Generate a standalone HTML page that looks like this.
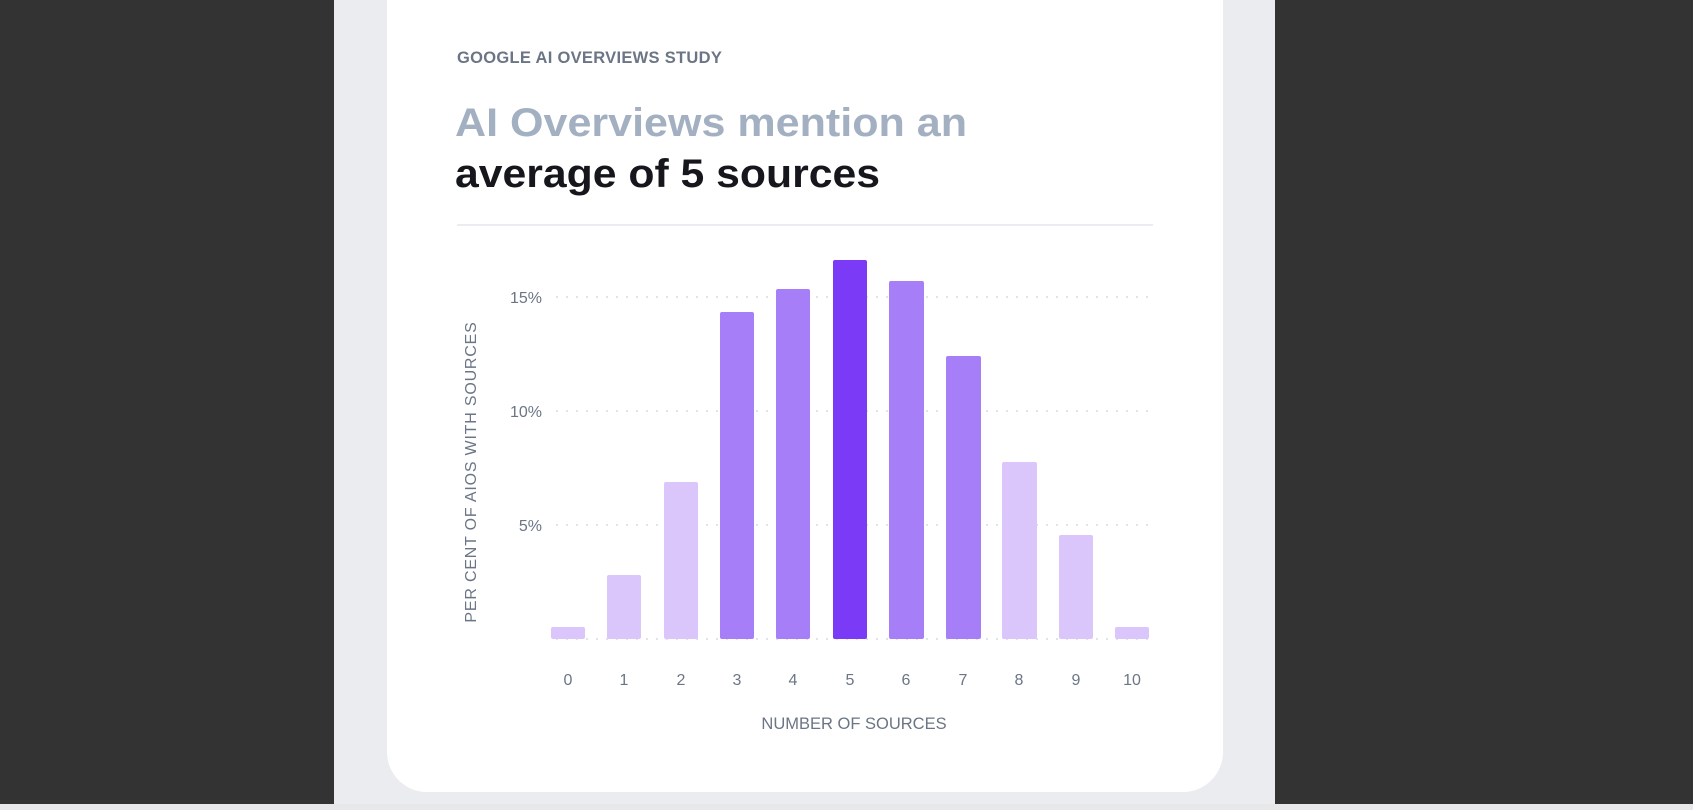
<!DOCTYPE html>
<html><head><meta charset="utf-8"><style>
html,body{margin:0;padding:0;}
body{width:1693px;height:810px;background:#333333;position:relative;overflow:hidden;font-family:"Liberation Sans",sans-serif;}
.panel{position:absolute;left:334px;top:0;width:941px;height:810px;background:#ebecef;}
.card{position:absolute;left:387px;top:-40px;width:836px;height:832px;background:#fff;border-radius:40px;}
.bot{position:absolute;left:0;top:804px;width:1693px;height:6px;background:#e8e8ea;}
</style></head><body>
<div class="panel"></div>
<div class="card"></div>
<div class="bot"></div>
<svg width="1693" height="810" style="position:absolute;left:0;top:0" font-family="Liberation Sans, sans-serif">
<text x="457" y="63" font-size="16.5" fill="#6b7585" font-weight="bold" letter-spacing="0.3">GOOGLE AI OVERVIEWS STUDY</text>
<text x="455" y="136" font-size="40" fill="#a3b0c2" font-weight="bold" textLength="512" lengthAdjust="spacingAndGlyphs">AI Overviews mention an</text>
<text x="455" y="187" font-size="40" fill="#16171d" font-weight="bold" textLength="425" lengthAdjust="spacingAndGlyphs">average of 5 sources</text>
<line x1="457" y1="225" x2="1153" y2="225" stroke="#e3e6ea" stroke-width="1.5"/>
<g stroke="#d6dae0" stroke-width="1.5" stroke-dasharray="2 8">
<line x1="556" y1="297" x2="1153" y2="297"/>
<line x1="556" y1="411" x2="1153" y2="411"/>
<line x1="556" y1="525" x2="1153" y2="525"/>
<line x1="556" y1="639" x2="1153" y2="639"/>
</g>
<g font-size="16" fill="#6b7585" text-anchor="end">
<text x="542" y="303">15%</text>
<text x="542" y="417">10%</text>
<text x="542" y="531">5%</text>
</g>
<g>
<rect x="551" y="627" width="34" height="12" rx="2" fill="#dbc6fb"/>
<rect x="607" y="575" width="34" height="64" rx="2" fill="#dbc6fb"/>
<rect x="664" y="482" width="34" height="157" rx="2" fill="#dbc6fb"/>
<rect x="720" y="312" width="34" height="327" rx="2" fill="#a67ff8"/>
<rect x="776" y="289" width="34" height="350" rx="2" fill="#a67ff8"/>
<rect x="833" y="260" width="34" height="379" rx="2" fill="#7b3af5"/>
<rect x="889" y="281" width="35" height="358" rx="2" fill="#a67ff8"/>
<rect x="946" y="356" width="35" height="283" rx="2" fill="#a67ff8"/>
<rect x="1002" y="462" width="35" height="177" rx="2" fill="#dbc6fb"/>
<rect x="1059" y="535" width="34" height="104" rx="2" fill="#dbc6fb"/>
<rect x="1115" y="627" width="34" height="12" rx="2" fill="#dbc6fb"/>
</g>
<g font-size="16" fill="#6b7585" text-anchor="middle">
<text x="568" y="685">0</text><text x="624" y="685">1</text><text x="681" y="685">2</text>
<text x="737" y="685">3</text><text x="793" y="685">4</text><text x="850" y="685">5</text>
<text x="906" y="685">6</text><text x="963" y="685">7</text><text x="1019" y="685">8</text>
<text x="1076" y="685">9</text><text x="1132" y="685">10</text>
</g>
<text x="854" y="729" font-size="16.5" fill="#6b7585" text-anchor="middle">NUMBER OF SOURCES</text>
<text transform="translate(476,472) rotate(-90)" font-size="16" fill="#6b7585" text-anchor="middle" letter-spacing="0.8">PER CENT OF AIOS WITH SOURCES</text>
</svg>
</body></html>
